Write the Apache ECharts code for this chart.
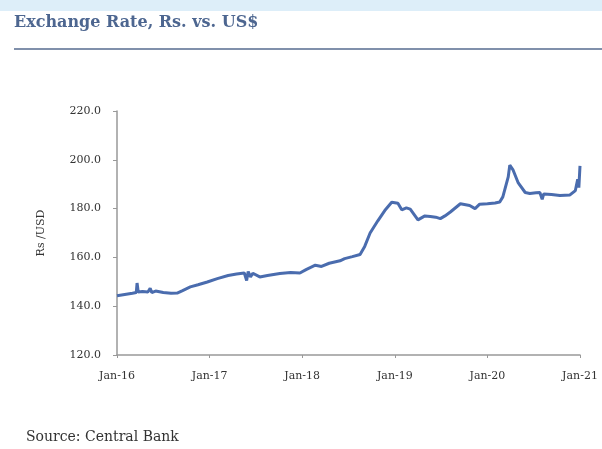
<!DOCTYPE html>
<html>
<head>
<meta charset="utf-8">
<script src="https://cdn.jsdelivr.net/npm/echarts@6/dist/echarts.min.js"></script>
<style>
html,body{margin:0;padding:0;background:#fff;}
#c{width:602px;height:449px;}
</style>
</head>
<body>
<div id="c"></div>
<script>
// months since Jan-2016
var months = [0,1,2,2.5,2.6,2.75,3.3,4.0,4.3,4.5,5.0,6.0,7.0,7.8,8.5,9.5,10.5,11.7,13,14.4,15.5,16.5,16.8,17.0,17.3,17.6,18.5,19.5,21.1,22.5,23.7,24.5,25.7,26.5,27.5,28.9,29.5,30.5,31.5,32.1,32.8,33.8,34.7,35.6,36.4,36.9,37.5,38.0,39.0,39.9,40.6,41.3,41.9,42.5,43.2,44.5,45.7,46.4,47.0,48.0,49.0,49.6,50.0,50.7,50.9,51.3,52.0,52.9,53.5,54.3,54.8,55.1,55.3,56.3,57.4,58.7,59.4,59.7,59.85,60];
var rates = [144.3,144.8,145.3,145.6,149.5,145.8,146.0,145.8,147.3,145.6,146.2,145.6,145.3,145.4,146.4,147.9,148.8,149.9,151.3,152.6,153.2,153.6,150.5,154.2,152.0,153.5,152.0,152.6,153.4,153.8,153.6,155.0,156.8,156.3,157.6,158.6,159.5,160.3,161.2,164.5,170.0,175.0,179.2,182.6,182.2,179.5,180.3,179.8,175.4,177.0,176.8,176.5,175.9,177.0,178.6,182.0,181.3,180.0,181.8,182.0,182.3,182.7,184.8,193.0,197.8,196.0,190.5,186.6,186.2,186.5,186.6,183.8,186.0,185.8,185.4,185.6,187.4,192.0,188.6,197.5];
var xTickLabels = ['Jan-16','Jan-17','Jan-18','Jan-19','Jan-20','Jan-21'];
var yTicks = [120,140,160,180,200,220];

var data = months.map(function(m,i){return [m, rates[i]];});
var chart = echarts.init(document.getElementById('c'));
var serif = 'DejaVu Serif';
chart.setOption({
  animation:false,
  backgroundColor:'#ffffff',
  graphic:[
    {type:'rect', shape:{x:0,y:0,width:602,height:11}, style:{fill:'#ddeef9'}},
    {type:'text', left:14, top:15, style:{text:'Exchange Rate, Rs. vs. US$', font:'bold 16px "DejaVu Serif"', fill:'#4d6690'}},
    {type:'rect', shape:{x:14,y:48,width:588,height:2}, style:{fill:'#8090ab'}},
    {type:'text', left:26, top:430, style:{text:'Source: Central Bank', font:'14px "DejaVu Serif"', fill:'#333'}}
  ],
  grid:{left:117,right:22,top:111,bottom:94,containLabel:false},
  xAxis:{
    type:'value', min:0, max:60, interval:12,
    axisLine:{show:true,lineStyle:{color:'#999',width:1.5}},
    axisTick:{show:true,length:3,lineStyle:{color:'#999'}},
    splitLine:{show:false},
    axisLabel:{margin:16,fontFamily:serif,fontSize:11,color:'#333',
      formatter:function(v){return xTickLabels[Math.round(v/12)];}}
  },
  yAxis:{
    type:'value', min:yTicks[0], max:yTicks[yTicks.length-1], interval:20,
    name:'Rs /USD', nameLocation:'middle', nameGap:70, nameRotate:90,
    nameTextStyle:{fontFamily:serif,fontSize:11,color:'#333'},
    axisLine:{show:true,lineStyle:{color:'#999',width:1.5}},
    axisTick:{show:true,length:4,lineStyle:{color:'#999'}},
    splitLine:{show:false},
    axisLabel:{margin:16,fontFamily:serif,fontSize:11,color:'#333',
      formatter:function(v){return v.toFixed(1);}}
  },
  series:[{
    type:'line', data:data, showSymbol:false, smooth:false,
    lineStyle:{color:'#4a6cae',width:3}
  }]
});
</script>
</body>
</html>
